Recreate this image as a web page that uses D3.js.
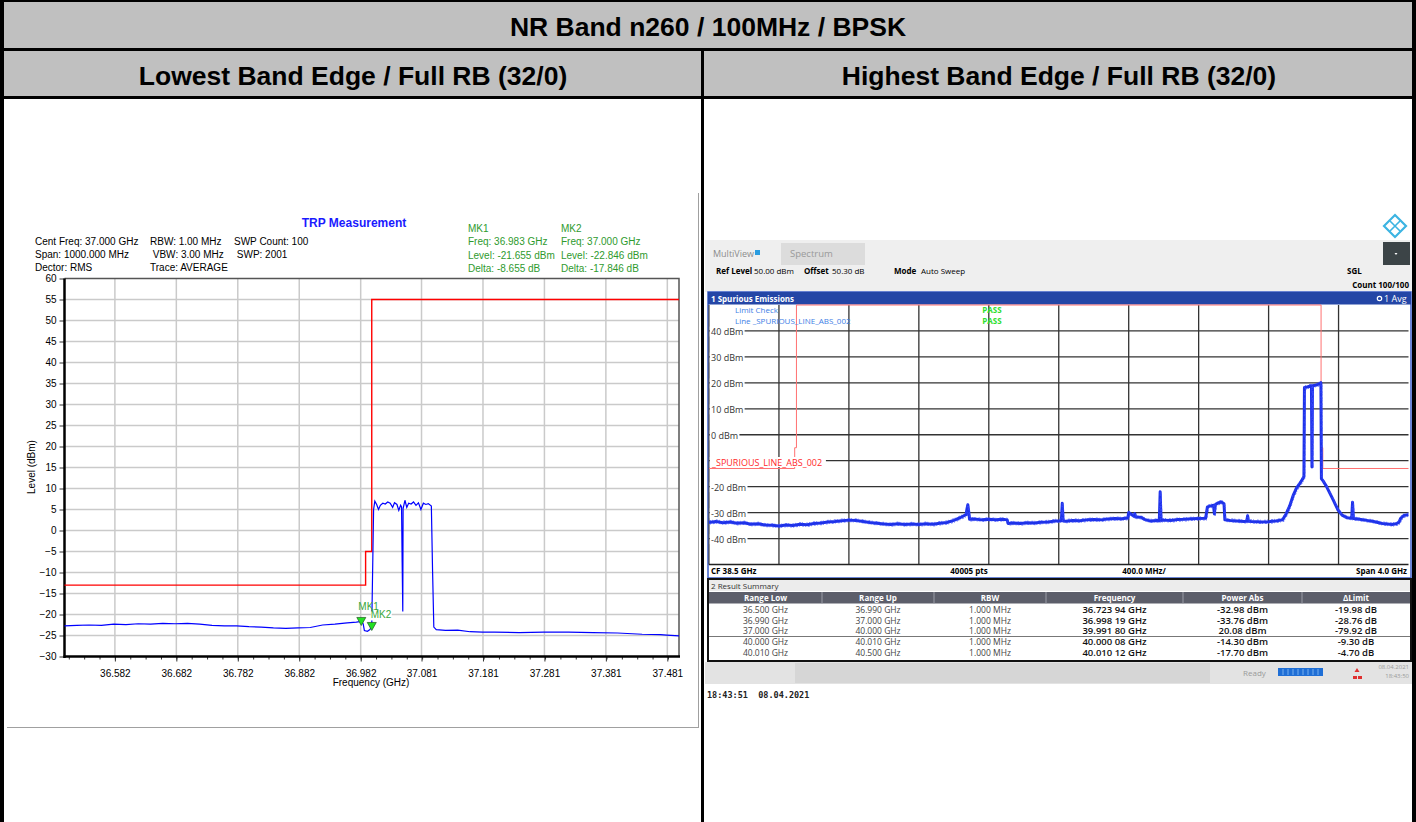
<!DOCTYPE html>
<html><head><meta charset="utf-8">
<script src="https://cdn.jsdelivr.net/npm/d3@7"></script>
<style>body{margin:0;background:#fff;}svg{display:block;}</style>
</head><body><svg id="c" width="1416" height="822"></svg>
<script>
// ---------- header texts ----------
const mainTitle = "NR Band n260 / 100MHz / BPSK";
const panelTitles = ["Lowest Band Edge / Full RB (32/0)", "Highest Band Edge / Full RB (32/0)"];

// ---------- TRP measurement (left) ----------
const trpFreq = [36.500,36.520,36.540,36.560,36.580,36.600,36.620,36.640,36.660,36.680,36.700,36.720,36.740,36.760,36.780,36.800,36.820,36.840,36.860,36.880,36.900,36.920,36.940,36.960,36.975,36.983,36.986,36.988,36.993,36.997,37.000,37.003,37.005,37.008,37.011,37.014,37.018,37.022,37.026,37.030,37.034,37.037,37.041,37.044,37.047,37.0485,37.0495,37.0505,37.051,37.054,37.057,37.060,37.064,37.068,37.072,37.076,37.080,37.084,37.088,37.092,37.097,37.099,37.101,37.105,37.120,37.140,37.160,37.180,37.200,37.240,37.280,37.320,37.360,37.400,37.440,37.470,37.480,37.500];
const trpLevel = [-22.7,-22.6,-22.5,-22.6,-22.3,-22.4,-22.2,-22.3,-22.1,-22.2,-22.1,-22.3,-22.6,-22.7,-22.7,-22.9,-23.0,-23.2,-23.3,-23.2,-23.1,-22.5,-22.3,-22.0,-21.8,-21.655,-22.2,-23.8,-24.0,-23.6,-22.846,5.0,7.0,6.2,5.0,6.0,6.5,6.3,6.8,6.5,5.5,6.6,6.2,4.8,6.0,5.6,-7.7,-19.3,5.2,7.2,5.5,6.5,6.3,6.8,6.0,6.6,5.0,6.5,6.2,6.4,5.8,-9.8,-23.0,-23.6,-23.8,-23.7,-24.1,-24.2,-24.2,-24.3,-24.2,-24.2,-24.3,-24.4,-24.7,-24.8,-24.9,-25.1];
const trpLimitFreq = [36.5,36.99,36.99,37.0,37.0,37.5];
const trpLimitLevel = [-13,-13,-5,-5,55,55];
const trpXTicks = [36.582,36.682,36.782,36.882,36.982,37.081,37.181,37.281,37.381,37.481];
const trpYTicks = [-30,-25,-20,-15,-10,-5,0,5,10,15,20,25,30,35,40,45,50,55,60];
const trpSettings = [
  ["Cent Freq: 37.000 GHz","Span: 1000.000 MHz","Dector: RMS"],
  ["RBW: 1.00 MHz"," VBW: 3.00 MHz","Trace: AVERAGE"],
  ["SWP Count: 100"," SWP: 2001"]
];
const markerNames = ["MK1","MK2"];
const markerFreq = [36.983,37.000];
const markerLevel = [-21.655,-22.846];
const markerDelta = [-8.655,-17.846];

// ---------- Spurious emissions (right) ----------
const spurFreq = [36.50,36.54,36.58,36.62,36.66,36.70,36.74,36.78,36.82,36.86,36.90,36.94,36.98,37.02,37.06,37.10,37.14,37.18,37.22,37.26,37.30,37.34,37.38,37.42,37.46,37.50,37.54,37.58,37.62,37.66,37.70,37.74,37.78,37.82,37.86,37.90,37.94,37.97,37.975,37.98,37.985,37.99,38.02,38.06,38.10,38.14,38.18,38.205,38.21,38.24,38.28,38.32,38.36,38.40,38.44,38.48,38.515,38.52,38.525,38.54,38.58,38.62,38.66,38.70,38.74,38.78,38.82,38.86,38.895,38.90,38.93,38.935,38.94,38.97,38.99,39.02,39.06,39.075,39.08,39.085,39.10,39.14,39.18,39.22,39.26,39.30,39.34,39.35,39.37,39.385,39.39,39.395,39.41,39.43,39.445,39.45,39.48,39.52,39.56,39.575,39.58,39.585,39.60,39.63,39.66,39.70,39.74,39.78,39.80,39.82,39.84,39.86,39.88,39.895,39.902,39.905,39.92,39.935,39.945,39.948,39.951,39.96,39.975,39.99,39.999,40.002,40.01,40.03,40.05,40.07,40.08,40.097,40.12,40.15,40.175,40.18,40.185,40.22,40.26,40.30,40.35,40.38,40.405,40.43,40.445,40.455,40.476,40.50];
const spurLevel = [-33.8,-33.4,-33.9,-33.6,-34.1,-33.9,-34.5,-34.3,-34.8,-34.9,-35.2,-34.8,-35.0,-34.5,-34.7,-34.2,-34.0,-33.6,-33.4,-33.1,-32.9,-33.0,-33.4,-33.8,-34.1,-34.4,-34.6,-34.3,-34.6,-34.4,-34.6,-34.3,-34.5,-34.1,-33.8,-33.0,-31.8,-30.8,-28.6,-27.0,-29.6,-32.6,-32.5,-32.8,-32.6,-32.8,-32.6,-32.8,-34.2,-34.0,-34.2,-33.9,-34.0,-33.7,-33.6,-33.2,-33.1,-26.4,-33.2,-33.3,-33.0,-33.1,-32.8,-32.7,-32.8,-32.5,-32.3,-32.4,-32.1,-30.0,-31.4,-30.4,-31.7,-31.8,-32.6,-33.2,-33.0,-33.1,-22.0,-33.0,-32.9,-33.0,-32.7,-32.6,-32.4,-32.3,-32.2,-27.8,-27.4,-27.2,-30.5,-27.0,-26.3,-25.9,-26.6,-32.8,-33.0,-33.2,-33.4,-33.3,-31.2,-33.3,-33.4,-33.5,-33.6,-33.5,-33.2,-32.8,-30.5,-27.5,-23.5,-20.5,-18.6,-17.0,-16.0,18.2,18.4,18.7,18.9,-12.4,18.8,19.0,19.2,19.6,20.08,-17.0,-17.6,-19.8,-22.5,-25.2,-26.6,-29.0,-31.0,-32.0,-32.2,-26.0,-32.3,-32.6,-33.0,-33.4,-34.2,-34.4,-34.6,-34.3,-33.8,-32.2,-31.0,-30.8];
const spurLimitFreq = [36.5,36.99,36.99,37.0,37.0,40.0,40.0,40.01,40.01,40.5];
const spurLimitLevel = [-13,-13,-5,-5,60,60,-5,-5,-13,-13];
const spurYGrid = [40,30,20,10,0,-10,-20,-30,-40];
const spurYLabels = [40,30,20,10,0,-20,-30,-40];
const spurXDivs = [36.9,37.3,37.7,38.1,38.5,38.9,39.3,39.7,40.1];

// result summary table
const tableHead = ["Range Low","Range Up","RBW","Frequency","Power Abs","\u0394Limit"];
const rangeLow = ["36.500 GHz","36.990 GHz","37.000 GHz","40.000 GHz","40.010 GHz"];
const rangeUp = ["36.990 GHz","37.000 GHz","40.000 GHz","40.010 GHz","40.500 GHz"];
const rbw = ["1.000 MHz","1.000 MHz","1.000 MHz","1.000 MHz","1.000 MHz"];
const peakFreq = ["36.723 94 GHz","36.998 19 GHz","39.991 80 GHz","40.000 08 GHz","40.010 12 GHz"];
const powerAbs = ["-32.98 dBm","-33.76 dBm","20.08 dBm","-14.30 dBm","-17.70 dBm"];
const deltaLimit = ["-19.98 dB","-28.76 dB","-79.92 dB","-9.30 dB","-4.70 dB"];

const svg = d3.select("#c");
svg.append("rect").attr("width",1416).attr("height",822).attr("fill","#fff");

// ================= table frame =================
const headFont = "'Liberation Sans', Arial, sans-serif";
svg.append("rect").attr("x",0).attr("y",0).attr("width",1416).attr("height",98).attr("fill","#c0c0c0");
svg.append("text").attr("x",708).attr("y",35.5).attr("text-anchor","middle")
  .attr("font-family",headFont).attr("font-weight","bold").attr("font-size",26.5).text(mainTitle);
[353,1059].forEach((cx,i)=>{
  svg.append("text").attr("x",cx).attr("y",84.5).attr("text-anchor","middle")
    .attr("font-family",headFont).attr("font-weight","bold").attr("font-size",26.5).text(panelTitles[i]);
});
const border = svg.append("g").attr("fill","#000");
border.append("rect").attr("x",0).attr("y",0).attr("width",1416).attr("height",2);
border.append("rect").attr("x",0).attr("y",0).attr("width",4).attr("height",822);
border.append("rect").attr("x",1412).attr("y",0).attr("width",4).attr("height",822);
border.append("rect").attr("x",0).attr("y",48).attr("width",1416).attr("height",3);
border.append("rect").attr("x",0).attr("y",96).attr("width",1416).attr("height",3);
border.append("rect").attr("x",701).attr("y",48).attr("width",3).attr("height",774);

// ================= left: TRP Measurement =================
const L = svg.append("g").attr("font-family","'Liberation Sans', Arial, sans-serif").attr("font-size",10);
// picture frame edges
L.append("line").attr("x1",7).attr("x2",698).attr("y1",727.5).attr("y2",727.5).attr("stroke","#a0a0a0");
L.append("line").attr("x1",698.5).attr("x2",698.5).attr("y1",193).attr("y2",728).attr("stroke","#a0a0a0");

const lx = d3.scaleLinear().domain([36.5,37.5]).range([64.5,679]);
const ly = d3.scaleLinear().domain([-30,60]).range([656.5,278.5]);

L.append("text").attr("x",354).attr("y",227).attr("text-anchor","middle").attr("fill","#1a1aff")
  .attr("font-weight","bold").attr("font-size",12).text("TRP Measurement");
const colX = [35,150,234];
trpSettings.forEach((col,i)=>col.forEach((t,j)=>{
  L.append("text").attr("x",colX[i]).attr("y",245+j*13.2).attr("xml:space","preserve").text(t);
}));
const mkX = [468,561];
markerNames.forEach((n,i)=>{
  const g = L.append("g").attr("fill","#2e9a2e");
  g.append("text").attr("x",mkX[i]).attr("y",231.5).text(n);
  g.append("text").attr("x",mkX[i]).attr("y",245).text("Freq: "+markerFreq[i].toFixed(3)+" GHz");
  g.append("text").attr("x",mkX[i]).attr("y",258.5).text("Level: "+markerLevel[i].toFixed(3)+" dBm");
  g.append("text").attr("x",mkX[i]).attr("y",272).text("Delta: "+markerDelta[i].toFixed(3)+" dB");
});

// grid
const grid = L.append("g").attr("stroke","#cacaca").attr("stroke-width",1.5);
trpYTicks.slice(1,-1).forEach(v=>grid.append("line").attr("x1",lx.range()[0]).attr("x2",lx.range()[1]).attr("y1",ly(v)).attr("y2",ly(v)));
trpXTicks.forEach(v=>grid.append("line").attr("x1",lx(v)).attr("x2",lx(v)).attr("y1",ly(60)).attr("y2",ly(-30)));

// top/right frame
L.append("path").attr("d",`M${lx(36.5)},${ly(60)}H${lx(37.5)}V${ly(-30)}`).attr("fill","none").attr("stroke","#555").attr("stroke-width",1.5);

// axes
const yAxis = d3.axisLeft(ly).tickValues(trpYTicks).tickSize(5).tickPadding(3);
L.append("g").attr("transform",`translate(${lx(36.5)},0)`).call(yAxis);
const xMinor = d3.range(0,41).map(k=>36.5+0.007+k*0.025).filter(v=>v<=37.5);
const xAxisMinor = d3.axisBottom(lx).tickValues(xMinor).tickSize(3).tickFormat("");
L.append("g").attr("transform",`translate(0,${ly(-30)})`).call(xAxisMinor);
const xAxis = d3.axisBottom(lx).tickValues(trpXTicks).tickSize(5).tickPadding(8).tickFormat(d3.format(".3f"));
L.append("g").attr("transform",`translate(0,${ly(-30)})`).call(xAxis);
L.selectAll(".domain").remove();
L.selectAll(".tick text").attr("font-family","'Liberation Sans', Arial, sans-serif").attr("font-size",10).attr("fill","#000");
L.selectAll(".tick line").attr("stroke","#333");
L.append("line").attr("x1",lx(36.5)).attr("x2",lx(36.5)).attr("y1",ly(60)).attr("y2",ly(-30)+1.5).attr("stroke","#000").attr("stroke-width",2.5);
L.append("line").attr("x1",lx(36.5)-1).attr("x2",lx(37.5)+1).attr("y1",ly(-30)).attr("y2",ly(-30)).attr("stroke","#000").attr("stroke-width",2.5);

L.append("text").attr("transform",`translate(35,467) rotate(-90)`).attr("text-anchor","middle").text("Level (dBm)");
L.append("text").attr("x",371).attr("y",686).attr("text-anchor","middle").text("Frequency (GHz)");

// limit line and trace
const limLine = d3.line().x((d,i)=>lx(trpLimitFreq[i])).y((d,i)=>ly(trpLimitLevel[i]));
L.append("path").attr("d",limLine(trpLimitFreq)).attr("fill","none").attr("stroke","#ff0000").attr("stroke-width",1.4);
const trLine = d3.line().x((d,i)=>lx(trpFreq[i])).y((d,i)=>ly(trpLevel[i]));
L.append("path").attr("d",trLine(trpFreq)).attr("fill","none").attr("stroke","#0000ff").attr("stroke-width",1.2);

// markers (MK2 label sits on a white patch over the MK1 label)
const mkLabelDx = [-3,-1]; const mkLabelDy = [-11,-8];
markerNames.forEach((n,i)=>{
  const px = lx(markerFreq[i]), py = ly(markerLevel[i]);
  const t = L.append("text").attr("x",px+mkLabelDx[i]).attr("y",py+mkLabelDy[i]).attr("fill","#3aa63a").attr("font-size",10).text(n);
  if(i===1){
    const bb = t.node().getBBox();
    L.insert("rect",()=>t.node()).attr("x",bb.x).attr("y",bb.y+2).attr("width",bb.width).attr("height",bb.height-2).attr("fill","#fff");
  }
});
markerNames.forEach((n,i)=>{
  const px = lx(markerFreq[i]), py = ly(markerLevel[i]);
  L.append("path").attr("d",`M${px-4.5},${py-4}L${px+4.5},${py-4}L${px},${py+4}Z`).attr("fill","#22e022").attr("stroke","#2a6a2a").attr("stroke-width",0.8);
});

// ================= right: Spurious emissions =================
const rFont = "'Open Sans','Noto Sans',sans-serif";
const R = svg.append("g").attr("font-family",rFont).attr("font-size",8);
// logo
const logo = R.append("g").attr("transform","translate(1395,226)").attr("fill","none").attr("stroke","#3cb4e2").attr("stroke-width",2.2);
logo.append("path").attr("d","M0,-11L11,0L0,11L-11,0Z");
logo.append("path").attr("d","M-5,-5L5,5M5,-5L-5,5").attr("stroke-width",1.6);
// toolbar
R.append("rect").attr("x",705).attr("y",240).attr("width",707).attr("height",52).attr("fill","#efefef");
R.append("text").attr("x",713).attr("y",257).attr("fill","#8c8c8c").attr("font-size",9).text("MultiView");
R.append("rect").attr("x",755).attr("y",250).attr("width",5).attr("height",5).attr("fill","#2a9ce0");
R.append("rect").attr("x",781).attr("y",243).attr("width",84).attr("height",22).attr("fill","#dcdcdc");
R.append("text").attr("x",790).attr("y",257).attr("fill","#9a9a9a").attr("font-size",9.5).text("Spectrum");
R.append("rect").attr("x",1383).attr("y",242).attr("width",27).attr("height",23).attr("fill","#3c4447");
R.append("path").attr("d","M1394.5,253L1397.5,253L1396,255Z").attr("fill","#fff");
const info = [["Ref Level",716,"50.00 dBm",754],["Offset",804,"50.30 dB",832],["Mode",894,"Auto Sweep",921]];
info.forEach(r=>{
  R.append("text").attr("x",r[1]).attr("y",274).attr("font-weight","bold").text(r[0]);
  R.append("text").attr("x",r[3]).attr("y",274).text(r[2]);
});
R.append("text").attr("x",1347).attr("y",274).attr("font-weight","bold").text("SGL");
R.append("text").attr("x",1409).attr("y",288).attr("text-anchor","end").attr("font-weight","bold").text("Count 100/100");

// window 1 frame
R.append("rect").attr("x",708).attr("y",292).attr("width",703).attr("height",286).attr("fill","#fff").attr("stroke","#3a5cc8").attr("stroke-width",1.5);
R.append("rect").attr("x",708).attr("y",292).attr("width",703).attr("height",12.5).attr("fill","#2446a6");
R.append("text").attr("x",711).attr("y",301.5).attr("fill","#fff").attr("font-weight","bold").text("1 Spurious Emissions");
R.append("circle").attr("cx",1379.5).attr("cy",298.5).attr("r",2.2).attr("fill","none").attr("stroke","#fff").attr("stroke-width",1.2);
R.append("text").attr("x",1384).attr("y",301.5).attr("fill","#fff").attr("font-size",9).text("1 Avg");

const rx = d3.scaleLinear().domain([36.5,40.5]).range([709,1408.5]);
const ry = d3.scaleLinear().domain([-50,50]).range([564.5,305]);

const rg = R.append("g").attr("stroke","#333").attr("stroke-width",1.3);
spurXDivs.forEach(v=>rg.append("line").attr("x1",rx(v)).attr("x2",rx(v)).attr("y1",ry(50)).attr("y2",ry(-50)));
spurYGrid.forEach(v=>rg.append("line").attr("x1",rx(36.5)).attr("x2",rx(40.5)).attr("y1",ry(v)).attr("y2",ry(v)));
R.append("line").attr("x1",rx(36.5)).attr("x2",rx(40.5)).attr("y1",ry(-50)).attr("y2",ry(-50)).attr("stroke","#222").attr("stroke-width",1.5);
R.append("line").attr("x1",rx(36.5)).attr("x2",rx(36.5)).attr("y1",ry(50)).attr("y2",ry(-50)).attr("stroke","#222").attr("stroke-width",1);

// level labels
const yAx = d3.axisRight(ry).tickValues(spurYLabels).tickSize(0).tickPadding(2).tickFormat(d=>d+" dBm");
const yAg = R.append("g").attr("transform",`translate(${rx(36.5)},0)`).call(yAx);
yAg.select(".domain").remove();
yAg.selectAll(".tick text").attr("font-family",rFont).attr("font-size",9).attr("fill","#333").attr("dy","0.4em")
  .each(function(){
    const bb = this.getBBox();
    d3.select(this.parentNode).insert("rect","text").attr("x",0.8).attr("y",bb.y+1.5).attr("width",bb.x+bb.width+0.5).attr("height",bb.height-3).attr("fill","#fff");
  });

// limit line
const sLim = d3.line().x((d,i)=>rx(spurLimitFreq[i])).y((d,i)=>ry(Math.min(spurLimitLevel[i],50)));
R.append("path").attr("d",sLim(spurLimitFreq)).attr("fill","none").attr("stroke","#ff7070").attr("stroke-width",1);
// limit-line name
const ln = R.append("text").attr("x",712).attr("y",465.5).attr("fill","#ff2a2a").attr("font-size",9).text("_SPURIOUS_LINE_ABS_002");
const lnb = ln.node().getBBox();
R.insert("rect",()=>ln.node()).attr("x",709.8).attr("y",lnb.y+1.5).attr("width",lnb.width+5).attr("height",lnb.height-3).attr("fill","#fff");

// trace: thick noisy band with ragged edges
const sLine = d3.line().x((d,i)=>rx(spurFreq[i])).y((d,i)=>ry(spurLevel[i]));
const tr = R.append("g").attr("fill","none").attr("stroke-linejoin","round");
tr.append("path").attr("d",sLine(spurFreq)).attr("stroke","#1e32e8").attr("stroke-width",3);
[-1.6,1.6].forEach((dy,k)=>tr.append("path").attr("d",sLine(spurFreq)).attr("transform",`translate(${k?1:0},${dy})`)
  .attr("stroke","#3a4cff").attr("stroke-width",1.1).attr("stroke-opacity",0.7).attr("stroke-dasharray",k?"1,2,2,1":"2,1,1,3"));

// limit check text
R.append("text").attr("x",735).attr("y",313).attr("fill","#3c7ee6").text("Limit Check");
R.append("text").attr("x",735).attr("y",324).attr("fill","#3c7ee6").text("Line _SPURIOUS_LINE_ABS_002");
R.append("text").attr("x",992).attr("y",313).attr("text-anchor","middle").attr("fill","#2ee02e").attr("font-weight","bold").text("PASS");
R.append("text").attr("x",992).attr("y",324).attr("text-anchor","middle").attr("fill","#2ee02e").attr("font-weight","bold").text("PASS");

// footer row
R.append("text").attr("x",711).attr("y",574).attr("font-weight","bold").text("CF 38.5 GHz");
R.append("text").attr("x",969).attr("y",574).attr("text-anchor","middle").attr("font-weight","bold").text("40005 pts");
R.append("text").attr("x",1144).attr("y",574).attr("text-anchor","middle").attr("font-weight","bold").text("400.0 MHz/");
R.append("text").attr("x",1407).attr("y",574).attr("text-anchor","end").attr("font-weight","bold").text("Span 4.0 GHz");

// window 2: result summary
R.append("rect").attr("x",708).attr("y",579).attr("width",703).attr("height",82).attr("fill","#fff").attr("stroke","#111").attr("stroke-width",2);
R.append("rect").attr("x",709).attr("y",580).attr("width",701).attr("height",11).attr("fill","#ececec");
R.append("text").attr("x",711).attr("y",588.5).attr("fill","#333").text("2 Result Summary");
R.append("rect").attr("x",709).attr("y",592).attr("width",701).attr("height",11.5).attr("fill","#5c5e6a");
const colEdges = [709,822,934,1046,1183,1302,1410];
const colC = colEdges.slice(0,-1).map((e,i)=>(e+colEdges[i+1])/2);
colEdges.slice(1,-1).forEach(e=>R.append("line").attr("x1",e).attr("x2",e).attr("y1",592).attr("y2",603.5).attr("stroke","#9a9ca6"));
tableHead.forEach((h,i)=>R.append("text").attr("x",colC[i]).attr("y",601).attr("text-anchor","middle").attr("fill","#fff").attr("font-weight","bold").text(h));
const cols = [rangeLow,rangeUp,rbw,peakFreq,powerAbs,deltaLimit];
const rowY = [613,623.5,634,645,655.5];
cols.forEach((col,ci)=>col.forEach((v,ri)=>{
  const big = ci>=3;
  R.append("text").attr("x",colC[ci]).attr("y",rowY[ri]).attr("text-anchor","middle")
    .attr("fill",big?"#111":"#444").attr("font-size",big?9.5:8.5).attr("font-weight",big?"600":"normal").text(v);
}));
R.append("line").attr("x1",709).attr("x2",1410).attr("y1",636.5).attr("y2",636.5).attr("stroke","#777").attr("stroke-width",1);

// status bar
R.append("rect").attr("x",705).attr("y",662).attr("width",707).attr("height",22).attr("fill","#e3e3e3");
R.append("rect").attr("x",795).attr("y",663).attr("width",415).attr("height",20).attr("fill","#d6d6d6");
R.append("text").attr("x",1243).attr("y",676).attr("fill","#9a9a9a").text("Ready");
R.append("rect").attr("x",1278).attr("y",668).attr("width",45).attr("height",8).attr("fill","#1f6fd6");
d3.range(8).forEach(k=>R.append("line").attr("x1",1283+k*5).attr("x2",1283+k*5).attr("y1",669).attr("y2",675).attr("stroke","#8fc0f5").attr("stroke-width",0.8));
R.append("path").attr("d","M1357,668L1359.5,672L1354.5,672Z M1353,676h4v3h-4Z M1358,676h4v3h-4Z").attr("fill","#e03030");
R.append("text").attr("x",1409).attr("y",669).attr("text-anchor","end").attr("fill","#9a9a9a").attr("font-size",6).text("08.04.2021");
R.append("text").attr("x",1409).attr("y",678).attr("text-anchor","end").attr("fill","#9a9a9a").attr("font-size",6).text("18:43:50");
R.append("text").attr("x",707).attr("y",698).attr("font-family","'DejaVu Sans Mono','Liberation Mono',monospace").attr("font-size",8.5).attr("font-weight","bold").attr("fill","#222").attr("xml:space","preserve").text("18:43:51  08.04.2021");
</script></body></html>
